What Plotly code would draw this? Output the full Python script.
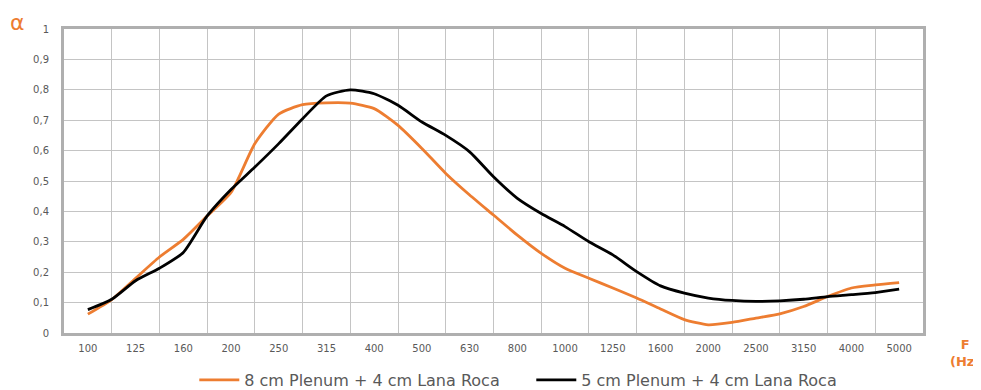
import plotly.graph_objects as go

freq_labels = ["100", "125", "160", "200", "250", "315", "400", "500", "630",
               "800", "1000", "1250", "1600", "2000", "2500", "3150", "4000", "5000"]

# positions in category units (half-steps between the 1/3-octave bands)
x_pos = [i / 2 for i in range(35)]

plenum8 = [0.062, 0.110, 0.180, 0.250, 0.308, 0.385, 0.462, 0.623, 0.720, 0.751,
           0.757, 0.756, 0.738, 0.683, 0.607, 0.525, 0.454, 0.388, 0.322, 0.262,
           0.213, 0.180, 0.148, 0.115, 0.079, 0.044, 0.027, 0.035, 0.049, 0.063,
           0.087, 0.120, 0.148, 0.158, 0.166]

plenum5 = [0.077, 0.111, 0.172, 0.213, 0.265, 0.385, 0.472, 0.546, 0.623, 0.705,
           0.780, 0.800, 0.787, 0.749, 0.694, 0.650, 0.596, 0.514, 0.443, 0.393,
           0.350, 0.300, 0.257, 0.202, 0.155, 0.131, 0.115, 0.107, 0.104, 0.106,
           0.111, 0.120, 0.126, 0.133, 0.144]

series_names = ["8 cm Plenum + 4 cm Lana Roca", "5 cm Plenum + 4 cm Lana Roca"]
ORANGE = "#ED7D31"
GRID = "#C4C4C4"
AXIS = "#AFAFAF"
TXT = "#595959"
FONT = "DejaVu Sans"

fig = go.Figure()
fig.add_trace(go.Scatter(x=x_pos, y=plenum8, mode="lines", name=series_names[0],
                         line=dict(color=ORANGE, width=2.8, shape="spline", smoothing=0.6)))
fig.add_trace(go.Scatter(x=x_pos, y=plenum5, mode="lines", name=series_names[1],
                         line=dict(color="#000000", width=2.8, shape="spline", smoothing=0.6)))

fig.update_layout(
    width=973, height=382,
    margin=dict(l=56, r=58, t=21, b=57, autoexpand=False),
    paper_bgcolor="white", plot_bgcolor="white",
    separators=",.",
    font=dict(family=FONT, color=TXT, size=10),
    showlegend=True,
    legend=dict(orientation="h", x=0.544, xanchor="center", xref="paper",
                y=0.026, yanchor="middle", yref="container",
                font=dict(size=16, color=TXT, family=FONT), itemwidth=40,
                entrywidth=282, entrywidthmode="pixels",
                traceorder="normal", bgcolor="rgba(0,0,0,0)"),
    xaxis=dict(range=[-0.5, 17.5], tickmode="array", tickvals=list(range(len(freq_labels))),
               ticktext=freq_labels, showgrid=False, zeroline=False, automargin=False,
               showline=True, linecolor=AXIS, linewidth=3, mirror=True,
               ticks="", ticklabelstandoff=4, tickfont=dict(size=10, color=TXT),
               minor=dict(tickmode="array", tickvals=[i + 0.5 for i in range(len(freq_labels) - 1)],
                          showgrid=True, gridcolor=GRID, gridwidth=1.3, ticks="")),
    yaxis=dict(range=[0, 1], tickmode="linear", tick0=0, dtick=0.1, automargin=False,
               showgrid=True, gridcolor=GRID, gridwidth=1.3, zeroline=False,
               showline=True, linecolor=AXIS, linewidth=3, mirror=True,
               ticks="", ticklabelstandoff=10, tickfont=dict(size=10, color=TXT)),
)

fig.add_annotation(text="α", xref="paper", yref="paper", x=-0.054, y=1.02,
                   xanchor="center", yanchor="middle", showarrow=False,
                   font=dict(size=22, color=ORANGE, family=FONT))
fig.add_annotation(text="<b>F<br>(Hz)</b>", xref="paper", yref="paper", x=1.049, y=-0.006,
                   xanchor="center", yanchor="top", showarrow=False, align="center",
                   font=dict(size=13, color=ORANGE, family=FONT))

fig.write_html("out.html")
